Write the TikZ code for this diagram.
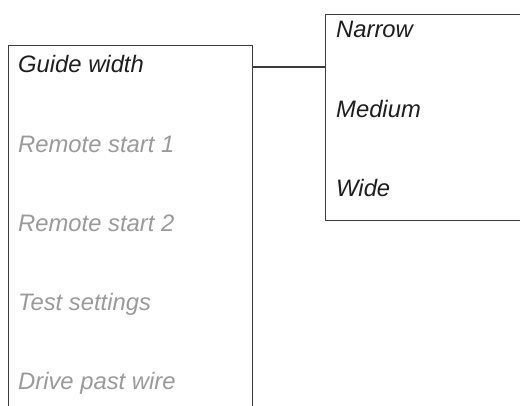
\documentclass[tikz,border=0pt]{standalone}
\usepackage{fontspec}
\setmainfont{Liberation Sans}
\usepackage{xcolor}
\usetikzlibrary{positioning}

\definecolor{framegray}{HTML}{3C3C3C}
\definecolor{textdark}{HTML}{1E1E1E}
\definecolor{textdim}{HTML}{9A9A9A}

\tikzset{
  menubox/.style={draw=framegray, line width=1.3pt, anchor=north west, inner sep=0pt},
  itemon/.style={anchor=base west, inner sep=0pt, text=textdark, font=\fontsize{23.8}{28}\selectfont\itshape},
  itemoff/.style={itemon, text=textdim}
}

\begin{document}
\begin{tikzpicture}[x=1pt, y=-1pt]

  \useasboundingbox (0,0) rectangle (520,406);

  \node[menubox, minimum width=244pt, minimum height=400pt] (menu) at (8,45) {};
  \node[menubox, minimum width=240pt, minimum height=206pt] (sub) at (325,14) {};

  \node[itemon] (guide) at (18,73) {Guide width};
  \node[itemoff] (remote1) at (18,152.2) {Remote start 1};
  \node[itemoff] (remote2) at (18,231.4) {Remote start 2};
  \node[itemoff] (test) at (18,310.6) {Test settings};
  \node[itemoff] (drive) at (18,389.8) {Drive past wire};

  \node[itemon] (narrow) at (336,38) {Narrow};
  \node[itemon] (medium) at (336,118) {Medium};
  \node[itemon] (wide) at (336,197) {Wide};

  \draw[framegray, line width=1.3pt] (menu.east |- 0,67) -- (sub.west |- 0,67);

\end{tikzpicture}
\end{document}
